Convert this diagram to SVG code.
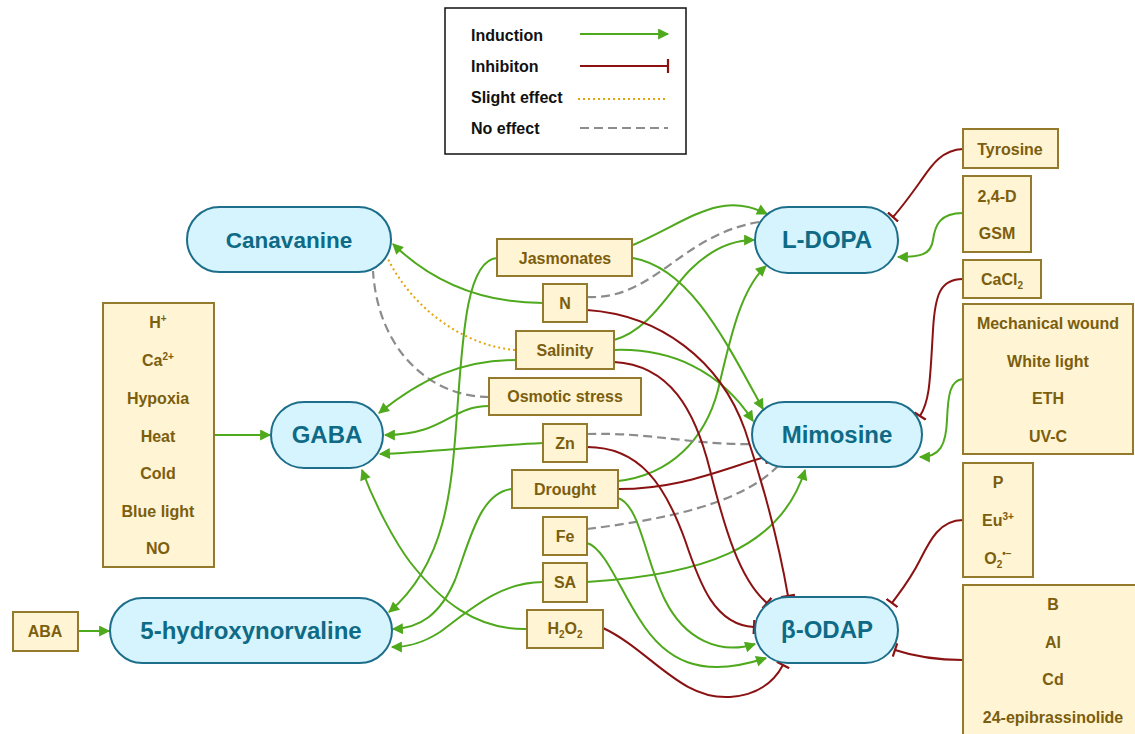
<svg xmlns="http://www.w3.org/2000/svg" width="1135" height="734" viewBox="0 0 1135 734">
<style>
.pill{fill:#d5f4fd;stroke:#1d6e8a;stroke-width:2}
.pt{font-family:"Liberation Sans",Arial,sans-serif;font-weight:bold;font-size:24px;fill:#0f6a86;text-anchor:middle}
.box{fill:#fff4d4;stroke:#937a2c;stroke-width:2}
.bt{font-family:"Liberation Sans",Arial,sans-serif;font-weight:bold;font-size:16px;fill:#7b5e0e;text-anchor:middle}
.lt{font-family:"Liberation Sans",Arial,sans-serif;font-weight:bold;font-size:16px;fill:#111}
.ind{fill:none;stroke:#4fa91c;stroke-width:2;marker-end:url(#arr)}
.inh{fill:none;stroke:#8b1212;stroke-width:2;marker-end:url(#bar)}
.sl{fill:none;stroke:#e3a50c;stroke-width:2;stroke-dasharray:2 3}
.no{fill:none;stroke:#8c8c8c;stroke-width:2.2;stroke-dasharray:9 5}
.s{font-size:10px}
</style>
<defs>
<marker id="arr" viewBox="0 0 10 10" refX="9" refY="5" markerWidth="12" markerHeight="11" orient="auto" markerUnits="userSpaceOnUse"><path d="M0,0 L10,5 L0,10 z" fill="#4fa91c"/></marker>
<marker id="bar" viewBox="0 0 4 14" refX="2" refY="7" markerWidth="4" markerHeight="14" orient="auto" markerUnits="userSpaceOnUse"><path d="M2,0 V14" stroke="#8b1212" stroke-width="2.2"/></marker>
</defs>
<rect width="1135" height="734" fill="#fff"/>

<g id="legend">
<rect x="445" y="8" width="241" height="146" fill="#fff" stroke="#111" stroke-width="1.5"/>
<text class="lt" x="471" y="41">Induction</text>
<text class="lt" x="471" y="72">Inhibiton</text>
<text class="lt" x="471" y="103">Slight effect</text>
<text class="lt" x="471" y="134">No effect</text>
<path class="ind" d="M580,34 H668"/>
<path class="inh" d="M580,66 H668"/>
<path class="sl" d="M578,99 H668"/>
<path class="no" d="M580,128 H668"/>
</g>

<g id="connectors">
<!-- left inputs -->
<path class="ind" d="M214,435 H270"/>
<path class="ind" d="M78,631 H109"/>
<!-- right inputs -->
<path class="inh" d="M963,149 C940,150 930,168 920,182 C910,196 902,207 893,217"/>
<path class="ind" d="M963,213 C940,213 935,225 933,240 C931,255 920,257 898,257"/>
<path class="inh" d="M963,279 C940,279 935,295 933,330 C930,380 930,400 920,416"/>
<path class="ind" d="M963,379 C950,380 948,395 947,420 C946,445 940,457 920,457"/>
<path class="inh" d="M963,520 C940,520 930,540 920,560 C910,580 900,592 892,603"/>
<path class="inh" d="M963,660 C930,660 910,655 895,650"/>
<!-- to Canavanine -->
<path class="ind" d="M543,303 C480,303 430,280 393,244"/>
<path class="sl" d="M515,350 C460,345 410,305 387,257"/>
<path class="no" d="M489,397 C430,397 378,350 373,271"/>
<!-- to GABA -->
<path class="ind" d="M516,360 C460,360 420,380 379,413"/>
<path class="ind" d="M489,406 C450,406 445,435 385,435"/>
<path class="ind" d="M543,443 C480,446 430,452 380,454"/>
<path class="ind" d="M527,629 C475,630 440,600 410,562 C395,542 375,505 362,470"/>
<!-- to 5-hydroxynorvaline -->
<path class="ind" d="M497,258 C468,260 463,330 458,400 C452,480 450,560 389,612"/>
<path class="ind" d="M512,489 C480,492 470,540 455,580 C440,615 420,628 393,629"/>
<path class="ind" d="M543,582 C500,582 470,610 440,632 C420,645 405,647 392,647"/>
<!-- to L-DOPA -->
<path class="ind" d="M633,245 C690,220 720,190 767,214"/>
<path class="no" d="M587,297 C655,300 680,235 759,222"/>
<path class="ind" d="M614,340 C650,330 670,290 690,270 C710,250 730,240 754,240"/>
<path class="ind" d="M618,481 C670,475 705,440 718,390 C730,340 740,290 766,266"/>
<!-- to Mimosine -->
<path class="ind" d="M633,258 C690,268 725,340 763,409"/>
<path class="ind" d="M614,350 C670,348 720,370 753,421"/>
<path class="no" d="M587,434 C650,432 690,445 752,444"/>
<path class="inh" d="M618,489 C680,489 720,470 765,457"/>
<path class="no" d="M587,529 C660,520 740,505 778,466"/>
<path class="ind" d="M587,582 C700,575 780,550 805,470"/>
<!-- to beta-ODAP -->
<path class="inh" d="M587,310 C660,315 720,360 745,430 C765,490 780,550 788,596"/>
<path class="inh" d="M614,362 C670,365 695,410 710,470 C725,530 740,580 767,603"/>
<path class="inh" d="M587,447 C640,447 665,485 685,540 C700,585 715,625 754,627"/>
<path class="ind" d="M618,498 C640,505 645,560 665,600 C685,640 720,655 755,644"/>
<path class="ind" d="M587,543 C605,548 620,590 640,620 C665,660 700,680 766,658"/>
<path class="inh" d="M603,628 C650,650 680,700 730,697 C760,695 775,680 783,665"/>
</g>

<g id="canavanine"><rect class="pill" x="187" y="207" width="204" height="65" rx="32.5"/><text class="pt" x="289" y="248" style="font-size:22.5px">Canavanine</text></g>
<g id="gaba"><rect class="pill" x="271" y="402" width="112" height="66" rx="33"/><text class="pt" x="327" y="443">GABA</text></g>
<g id="hnv"><rect class="pill" x="110" y="598" width="282" height="65" rx="32.5"/><text class="pt" x="251" y="639">5-hydroxynorvaline</text></g>
<g id="ldopa"><rect class="pill" x="755" y="207" width="143" height="66" rx="33"/><text class="pt" x="827" y="248">L-DOPA</text></g>
<g id="mimosine"><rect class="pill" x="752" y="402" width="170" height="65" rx="32.5"/><text class="pt" x="837" y="443">Mimosine</text></g>
<g id="bodap"><rect class="pill" x="755" y="597" width="143" height="66" rx="33"/><text class="pt" x="827" y="638">β-ODAP</text></g>

<g id="jasmonates"><rect class="box" x="497" y="239" width="135" height="37"/><text class="bt" x="565" y="264">Jasmonates</text></g>
<g id="n"><rect class="box" x="543" y="284" width="44" height="38"/><text class="bt" x="565" y="309">N</text></g>
<g id="salinity"><rect class="box" x="516" y="331" width="98" height="38"/><text class="bt" x="565" y="356">Salinity</text></g>
<g id="osmotic"><rect class="box" x="489" y="378" width="152" height="37"/><text class="bt" x="565" y="402">Osmotic stress</text></g>
<g id="zn"><rect class="box" x="543" y="424" width="44" height="38"/><text class="bt" x="565" y="449">Zn</text></g>
<g id="drought"><rect class="box" x="512" y="470" width="106" height="38"/><text class="bt" x="565" y="495">Drought</text></g>
<g id="fe"><rect class="box" x="543" y="517" width="44" height="38"/><text class="bt" x="565" y="542">Fe</text></g>
<g id="sa"><rect class="box" x="543" y="563" width="44" height="39"/><text class="bt" x="565" y="588">SA</text></g>
<g id="h2o2"><rect class="box" x="527" y="610" width="76" height="38"/><text class="bt" x="565" y="634">H<tspan class="s" dy="4">2</tspan><tspan dy="-4">O</tspan><tspan class="s" dy="4">2</tspan></text></g>

<g id="leftstim"><rect class="box" x="103" y="303" width="111" height="264"/>
<text class="bt" x="158" y="328">H<tspan class="s" dy="-6">+</tspan></text>
<text class="bt" x="158" y="366">Ca<tspan class="s" dy="-6">2+</tspan></text>
<text class="bt" x="158" y="404">Hypoxia</text>
<text class="bt" x="158" y="442">Heat</text>
<text class="bt" x="158" y="479">Cold</text>
<text class="bt" x="158" y="517">Blue light</text>
<text class="bt" x="158" y="554">NO</text></g>
<g id="aba"><rect class="box" x="13" y="612" width="65" height="39"/><text class="bt" x="45" y="637">ABA</text></g>

<g id="tyrosine"><rect class="box" x="963" y="129" width="95" height="39"/><text class="bt" x="1010" y="155">Tyrosine</text></g>
<g id="d24gsm"><rect class="box" x="963" y="176" width="68" height="76"/><text class="bt" x="997" y="202">2,4-D</text><text class="bt" x="997" y="239">GSM</text></g>
<g id="cacl2"><rect class="box" x="963" y="260" width="78" height="38"/><text class="bt" x="1002" y="285">CaCl<tspan class="s" dy="4">2</tspan></text></g>
<g id="mechbox"><rect class="box" x="963" y="304" width="170" height="150"/>
<text class="bt" x="1048" y="329">Mechanical wound</text>
<text class="bt" x="1048" y="367">White light</text>
<text class="bt" x="1048" y="404">ETH</text>
<text class="bt" x="1048" y="442">UV-C</text></g>
<g id="pbox"><rect class="box" x="963" y="463" width="70" height="114"/>
<text class="bt" x="998" y="488">P</text>
<text class="bt" x="998" y="526">Eu<tspan class="s" dy="-6">3+</tspan></text>
<text class="bt" x="998" y="564">O<tspan class="s" dy="4">2</tspan><tspan class="s" dy="-11">•−</tspan></text></g>
<g id="bbox"><rect class="box" x="963" y="585" width="180" height="170"/>
<text class="bt" x="1053" y="610">B</text>
<text class="bt" x="1053" y="648">Al</text>
<text class="bt" x="1053" y="685">Cd</text>
<text class="bt" x="1053" y="723">24-epibrassinolide</text></g>
</svg>
